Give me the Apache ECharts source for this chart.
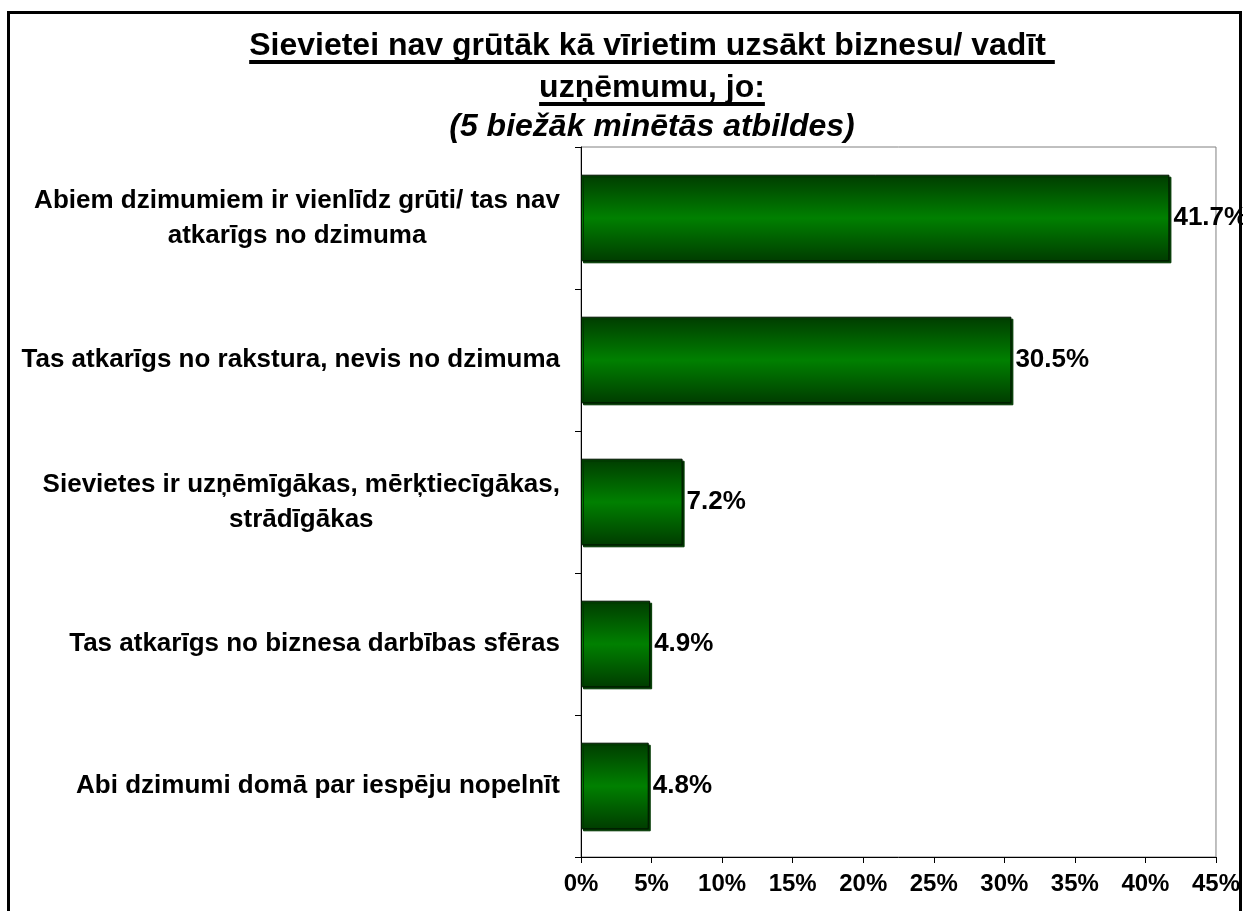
<!DOCTYPE html>
<html>
<head>
<meta charset="utf-8">
<script src="https://cdn.jsdelivr.net/npm/echarts@6/dist/echarts.min.js"></script>
<style>
html,body{margin:0;padding:0;background:#fff;}
#chart{width:1243px;height:911px;}
</style>
</head>
<body>
<div id="chart"></div>
<script>
const titleLines = [
  'Sievietei nav grūtāk kā vīrietim uzsākt biznesu/ vadīt ',
  'uzņēmumu, jo:',
  '(5 biežāk minētās atbildes)'
];
const categories = [
  'Abiem dzimumiem ir vienlīdz grūti/ tas nav\natkarīgs no dzimuma',
  'Tas atkarīgs no rakstura, nevis no dzimuma',
  'Sievietes ir uzņēmīgākas, mērķtiecīgākas,\nstrādīgākas',
  'Tas atkarīgs no biznesa darbības sfēras',
  'Abi dzimumi domā par iespēju nopelnīt'
];
const values = [41.7, 30.5, 7.2, 4.9, 4.8];
const axisMin = 0, axisMax = 45, axisStep = 5;

const FONT = '"Liberation Sans", Arial, sans-serif';
const chart = echarts.init(document.getElementById('chart'), null, {renderer: 'canvas'});

// measure text widths for underlines
const mctx = document.createElement('canvas').getContext('2d');
function textW(str, font) { mctx.font = font; return mctx.measureText(str).width; }

const titleFont = 32;
const tFont = 'bold ' + titleFont + 'px ' + FONT;
const cx = 652;
const t1w = textW(titleLines[0], tFont);
const t2w = textW(titleLines[1], tFont);

const graphics = [
  {type: 'text', x: cx, y: 46, z: 10,
   style: {text: titleLines[0], font: tFont, fill: '#000', textAlign: 'center', textVerticalAlign: 'middle'}},
  {type: 'rect', x: cx - t1w / 2, y: 60, z: 10, shape: {width: t1w, height: 4}, style: {fill: '#000'}},
  {type: 'text', x: cx, y: 88, z: 10,
   style: {text: titleLines[1], font: tFont, fill: '#000', textAlign: 'center', textVerticalAlign: 'middle'}},
  {type: 'rect', x: cx - t2w / 2, y: 102, z: 10, shape: {width: t2w, height: 4}, style: {fill: '#000'}},
  {type: 'text', x: cx, y: 127, z: 10,
   style: {text: titleLines[2], font: 'italic ' + tFont, fill: '#000', textAlign: 'center', textVerticalAlign: 'middle'}},
  {type: 'rect', x: 8.5, y: 12.5, z: 100, shape: {width: 1232, height: 1000},
   style: {fill: 'none', stroke: '#000', lineWidth: 3}}
];

function wrapRich(v) {
  return v.split('\n').map(l => '{c|' + l + '}').join('\n');
}

const option = {
  backgroundColor: '#fff',
  animation: false,
  graphic: graphics,
  grid: {left: 581, right: 27, top: 147, bottom: 54, show: true, borderColor: '#808080', borderWidth: 1, containLabel: false},
  xAxis: {
    type: 'value', min: axisMin, max: axisMax, interval: axisStep,
    axisLine: {show: true, lineStyle: {color: '#000', width: 1}},
    axisTick: {show: true, length: 6, lineStyle: {color: '#000'}},
    splitLine: {show: false},
    axisLabel: {formatter: '{value}%', color: '#000', fontSize: 24, fontWeight: 'bold', fontFamily: FONT, margin: 15}
  },
  yAxis: {
    type: 'category', data: categories, inverse: true,
    axisLine: {show: true, onZero: false, lineStyle: {color: '#000', width: 1}},
    axisTick: {show: true, length: 6, alignWithLabel: false, lineStyle: {color: '#000'}},
    splitLine: {show: false},
    axisLabel: {
      margin: 21, align: 'right', color: '#000',
      formatter: wrapRich,
      rich: {c: {align: 'center', fontSize: 26, fontWeight: 'bold', fontFamily: FONT, color: '#000', lineHeight: 35}}
    }
  },
  series: [{
    type: 'bar', data: values, barWidth: '61%',
    itemStyle: {
      color: new echarts.graphic.LinearGradient(0, 0, 0, 1, [
        {offset: 0, color: '#003c00'},
        {offset: 0.5, color: '#008000'},
        {offset: 1, color: '#003c00'}
      ]),
      borderColor: '#001400', borderWidth: 1,
      shadowColor: '#003800', shadowBlur: 0, shadowOffsetX: 2, shadowOffsetY: 2
    },
    label: {
      show: true, position: 'right', distance: 4,
      formatter: p => p.value.toFixed(1) + '%',
      color: '#000', fontSize: 26, fontWeight: 'bold', fontFamily: FONT
    }
  }]
};
chart.setOption(option);
</script>
</body>
</html>
